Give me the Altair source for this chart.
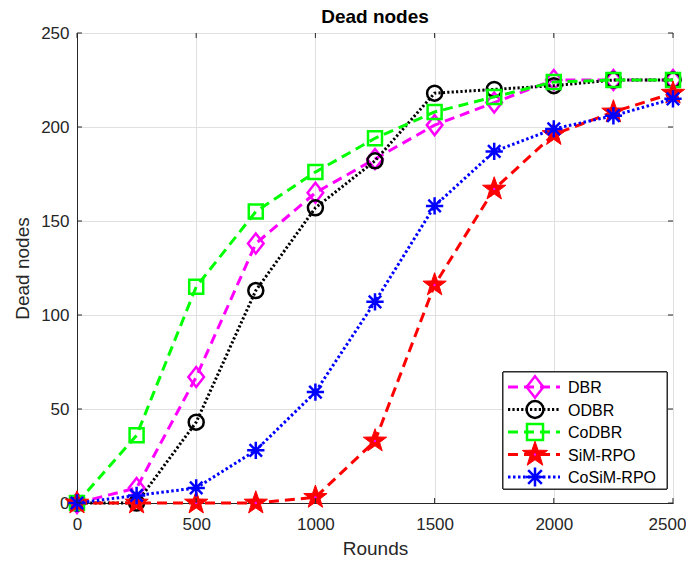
import math
import altair as alt
import pandas as pd

# ---- data ----
rounds = [0, 250, 500, 750, 1000, 1250, 1500, 1750, 2000, 2250, 2500]
dbr = [0, 8, 67, 138, 165, 183, 201, 213, 225, 225, 225]
odbr = [0, 0, 43, 113, 157, 182, 218, 220, 222, 225, 225]
codbr = [0, 36, 115, 155, 176, 194, 208, 216, 224, 225, 225]
simrpo = [0, 0, 0, 0, 3, 33, 116, 167, 196, 208, 218]
cosimrpo = [0, 4, 8, 28, 59, 107, 158, 187, 199, 206, 215]
series_names = ["DBR", "ODBR", "CoDBR", "SiM-RPO", "CoSiM-RPO"]
x_ticks = [0, 500, 1000, 1500, 2000, 2500]
y_ticks = [0, 50, 100, 150, 200, 250]
title_text = ["Dead nodes"]

W, H = 596, 470
FONT = "Liberation Sans"
AX = "#262626"

# marker shapes (normalised to [-1, 1])
diamond = "M0,-1L0.78,0L0,1L-0.78,0Z"
pts = []
for k in range(10):
    r = 1.0 if k % 2 == 0 else 0.4
    a = math.radians(-90 + 36 * k)
    pts.append(f"{r*math.cos(a):.3f},{r*math.sin(a):.3f}")
star = "M" + "L".join(pts) + "Z"
asterisk = "M-1,0L1,0M0,-1L0,1M-0.72,-0.72L0.72,0.72M-0.72,0.72L0.72,-0.72"

styles = {
    "DBR": dict(color="#FF00FF", dash=[10, 6], shape=diamond, size=400, filled=False),
    "ODBR": dict(color="#000000", dash=[2.2, 2.2], shape="circle", size=225, filled=False),
    "CoDBR": dict(color="#00FF00", dash=[10, 6], shape="square", size=196, filled=False),
    "SiM-RPO": dict(color="#FF0000", dash=[10, 6], shape=star, size=600, filled=True),
    "CoSiM-RPO": dict(color="#0000FF", dash=[2.5, 2.5], shape=asterisk, size=300, filled=False),
}
values = {"DBR": dbr, "ODBR": odbr, "CoDBR": codbr, "SiM-RPO": simrpo, "CoSiM-RPO": cosimrpo}

xscale = alt.Scale(domain=[0, 2500], nice=False, zero=False)
yscale = alt.Scale(domain=[0, 250], nice=False, zero=False)
xenc = alt.X("Rounds:Q", scale=xscale,
             axis=alt.Axis(title="Rounds", values=x_ticks, format="d", labelPadding=13,
                           titlePadding=7, labelFlush=False,
                           labelOffset={"condition": {"test": "datum.value == 2500", "value": -6},
                                        "value": 0}))
yenc = alt.Y("Dead:Q", scale=yscale,
             axis=alt.Axis(title="Dead nodes", values=y_ticks, format="d", labelPadding=8,
                           titlePadding=8))

layers = []
for name in series_names:
    st = values[name]
    df = pd.DataFrame({"Rounds": rounds, "Dead": st})
    s = styles[name]
    base = alt.Chart(df)
    layers.append(base.mark_line(color=s["color"], strokeWidth=3, strokeDash=s["dash"],
                                 strokeCap="butt").encode(x=xenc, y=yenc))
    if s["filled"]:
        layers.append(base.mark_point(shape=s["shape"], size=s["size"], filled=True,
                                      fill=s["color"], stroke=s["color"], strokeWidth=1,
                                      opacity=1).encode(x=xenc, y=yenc))
        layers.append(base.mark_point(shape="circle", size=6, filled=True, color="#FF00FF",
                                      opacity=1).encode(x=xenc, y=yenc))
    else:
        layers.append(base.mark_point(shape=s["shape"], size=s["size"], filled=False,
                                      color=s["color"], strokeWidth=2.5,
                                      opacity=1).encode(x=xenc, y=yenc))

# inward ticks on all four sides
xt = pd.DataFrame({"Rounds": x_ticks})
yt = pd.DataFrame({"Dead": y_ticks})
TL = 5
layers.append(alt.Chart(xt).mark_rule(color=AX, strokeWidth=1).encode(
    x=alt.X("Rounds:Q", scale=xscale), y=alt.value(H), y2=alt.value(H - TL)))
layers.append(alt.Chart(xt).mark_rule(color=AX, strokeWidth=1).encode(
    x=alt.X("Rounds:Q", scale=xscale), y=alt.value(0), y2=alt.value(TL)))
layers.append(alt.Chart(yt).mark_rule(color=AX, strokeWidth=1).encode(
    y=alt.Y("Dead:Q", scale=yscale), x=alt.value(0), x2=alt.value(TL)))
layers.append(alt.Chart(yt).mark_rule(color=AX, strokeWidth=1).encode(
    y=alt.Y("Dead:Q", scale=yscale), x=alt.value(W), x2=alt.value(W - TL)))

# title as a text mark above the plot area
layers.append(alt.Chart(pd.DataFrame({"t": title_text})).mark_text(
    align="center", baseline="alphabetic", font=FONT, fontSize=19, fontWeight="bold",
    color="black").encode(x=alt.value(W / 2), y=alt.value(-10), text="t:N"))

# legend (drawn as marks inside the plot, like MATLAB's box legend)
leg = pd.DataFrame({"series": series_names})
LX0, LX1, LY0, LY1 = 426, 590, 339, 456
layers.append(alt.Chart(leg).mark_rect(fill="white", stroke=AX, strokeWidth=1).encode(
    x=alt.value(LX0), x2=alt.value(LX1), y=alt.value(LY0), y2=alt.value(LY1)))
for i, name in enumerate(series_names):
    s = styles[name]
    yy = LY0 + 15 + i * 22.5
    one = alt.Chart(leg).transform_filter(alt.datum.series == name)
    layers.append(one.mark_rule(color=s["color"], strokeWidth=3, strokeDash=s["dash"],
                                strokeCap="butt").encode(
        x=alt.value(LX0 + 5), x2=alt.value(LX0 + 57), y=alt.value(yy)))
    if s["filled"]:
        layers.append(one.mark_point(shape=s["shape"], size=s["size"] + 100, filled=True,
                                     fill=s["color"], stroke=s["color"], strokeWidth=1,
                                     opacity=1).encode(x=alt.value(LX0 + 32), y=alt.value(yy)))
        layers.append(one.mark_point(shape="circle", size=6, filled=True, color="#FF00FF",
                                     opacity=1).encode(x=alt.value(LX0 + 32), y=alt.value(yy)))
    else:
        layers.append(one.mark_point(shape=s["shape"], size=s["size"] + 60, filled=False,
                                     color=s["color"], strokeWidth=2.5,
                                     opacity=1).encode(x=alt.value(LX0 + 32), y=alt.value(yy)))
    layers.append(one.mark_text(align="left", baseline="middle", font=FONT, fontSize=16,
                                color="black").encode(
        x=alt.value(LX0 + 65), y=alt.value(yy + 1), text="series:N"))

chart = alt.layer(*layers).properties(
    width=W, height=H,
    autosize=alt.AutoSizeParams(type="none"),
    padding={"left": 69, "top": 25, "right": 13, "bottom": 52},
).configure_view(stroke=AX, strokeWidth=1).configure_axis(
    grid=True, gridColor="#E0E0E0", gridWidth=1, domainColor=AX, domainWidth=1,
    ticks=False, labelFont=FONT, labelFontSize=17, labelColor=AX,
    titleFont=FONT, titleFontSize=19, titleFontWeight="normal", titleColor=AX,
)

chart.save("out.html", embed_options={"renderer": "svg", "actions": False})
